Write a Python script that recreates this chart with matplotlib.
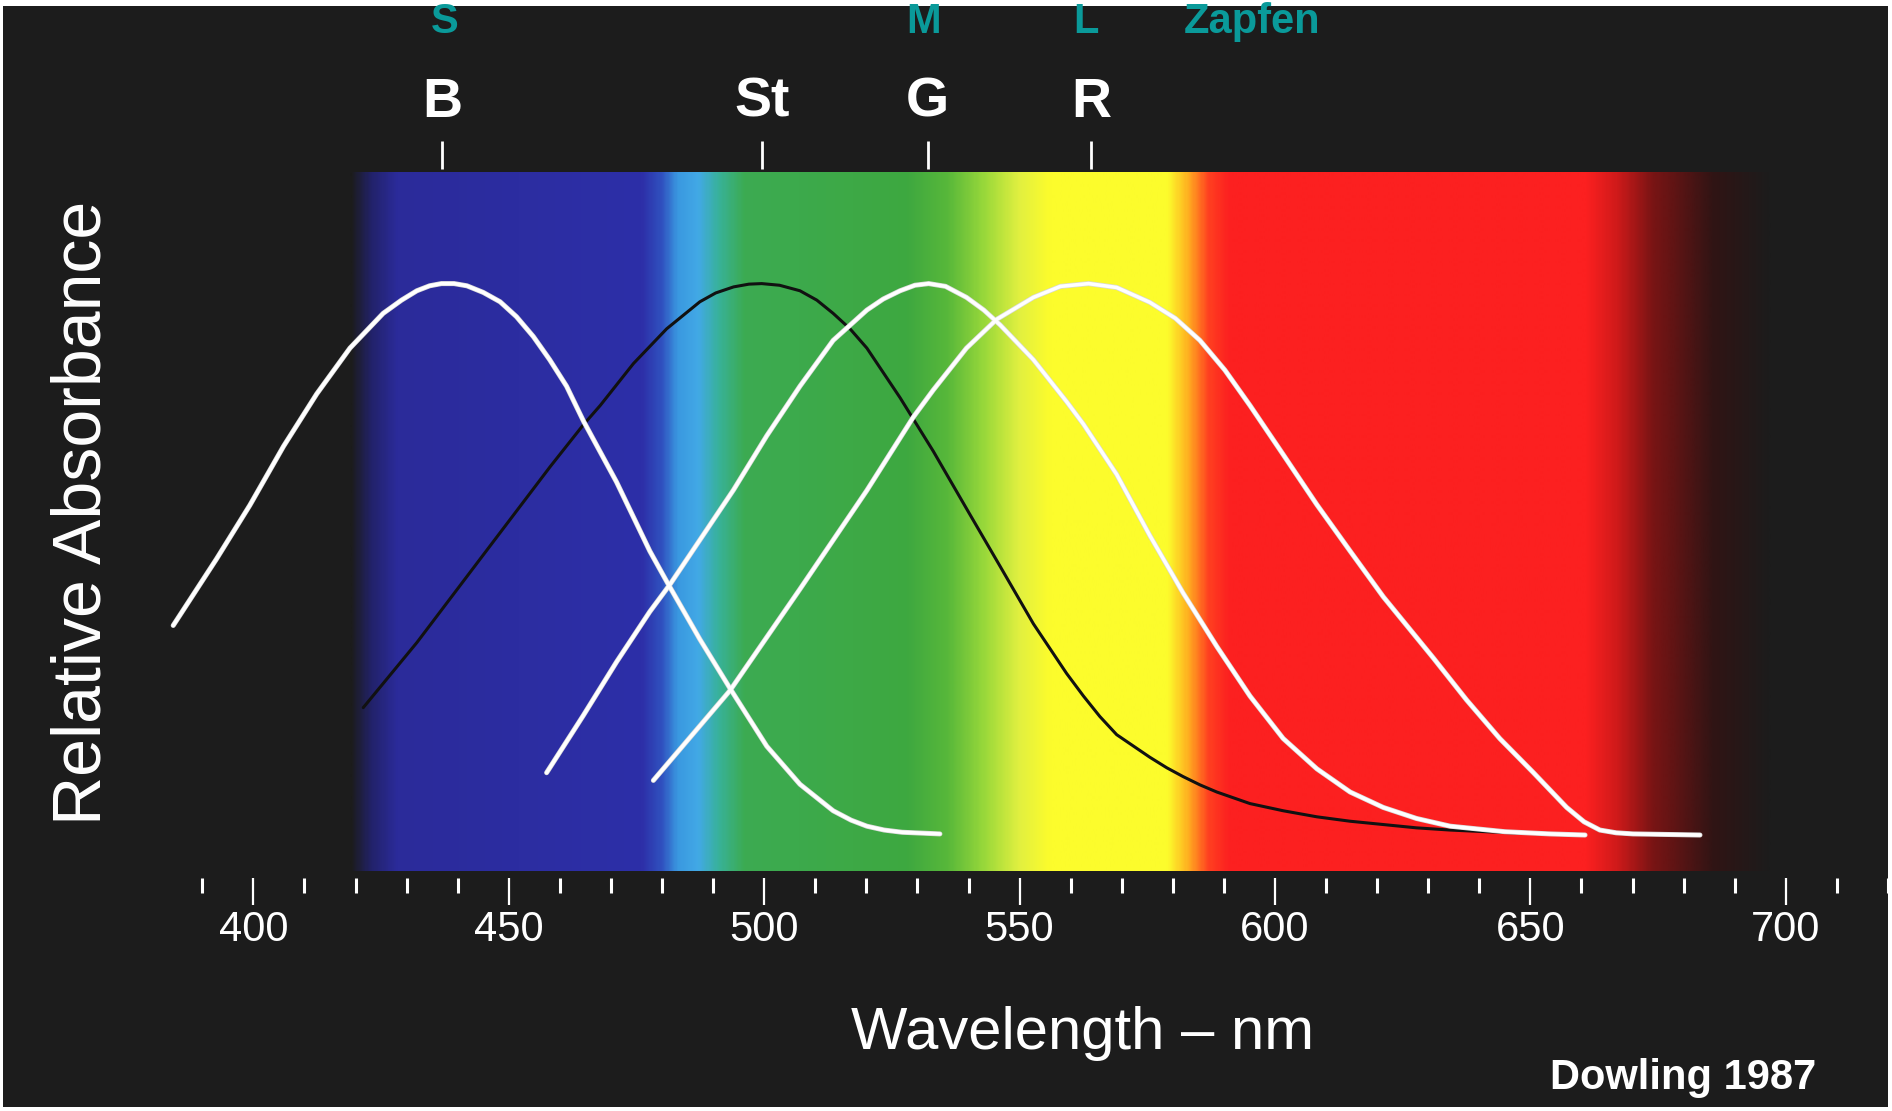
import numpy as np
import matplotlib
matplotlib.use("Agg")
import matplotlib.pyplot as plt
from matplotlib.colors import LinearSegmentedColormap
from matplotlib.patches import Rectangle

plt.rcParams["font.family"] = ["Liberation Sans", "DejaVu Sans"]

# --- data (wavelength nm, relative absorbance) ---
s_nm = [384.3, 392.8, 399.3, 405.9, 412.4, 418.9, 425.4, 429.0, 432.0, 434.5, 436.8, 439.3,
        441.8, 445.0, 448.3, 451.5, 454.8, 458.0, 461.3, 464.6, 471.1, 477.6, 480.9, 487.4,
        493.3, 500.5, 507.0, 513.5, 517.0, 520.1, 523.5, 527.0, 534.4]
s_abs = [0.380, 0.501, 0.598, 0.705, 0.800, 0.883, 0.946, 0.970, 0.987, 0.996, 1.000, 1.000,
         0.996, 0.984, 0.967, 0.940, 0.904, 0.862, 0.814, 0.751, 0.640, 0.515, 0.460, 0.355,
         0.266, 0.161, 0.092, 0.044, 0.027, 0.016, 0.009, 0.005, 0.002]

rod_nm = [421.5, 432.0, 445.0, 458.1, 464.6, 467.9, 474.4, 480.9, 487.4, 490.5, 494.0, 497.0,
          499.5, 503.0, 507.0, 510.3, 513.5, 516.8, 520.1, 526.6, 533.1, 539.6, 546.2, 552.7,
          559.2, 562.5, 565.7, 569.0, 575.5, 578.8, 582.0, 585.3, 588.6, 595.1, 601.6, 608.2,
          614.7, 621.2, 627.7, 634.3, 646.0, 658.0]
rod_abs = [0.231, 0.349, 0.508, 0.668, 0.744, 0.779, 0.855, 0.918, 0.967, 0.983, 0.994, 0.999,
           1.000, 0.997, 0.987, 0.970, 0.946, 0.918, 0.883, 0.793, 0.696, 0.592, 0.487, 0.383,
           0.293, 0.252, 0.215, 0.182, 0.141, 0.122, 0.106, 0.091, 0.078, 0.057, 0.044, 0.033,
           0.025, 0.019, 0.013, 0.009, 0.004, 0.001]

m_nm = [457.4, 464.6, 471.1, 477.6, 481.6, 487.4, 494.0, 500.5, 507.0, 513.5, 520.1, 523.3,
        526.6, 529.5, 532.2, 535.5, 539.6, 543.0, 546.2, 552.7, 559.2, 562.5, 569.0, 575.5,
        582.0, 588.6, 595.1, 601.6, 608.2, 614.7, 621.2, 627.7, 634.3, 645.0, 653.8, 660.7]
m_abs = [0.113, 0.217, 0.314, 0.405, 0.455, 0.535, 0.626, 0.724, 0.814, 0.897, 0.952, 0.972,
         0.987, 0.997, 1.000, 0.995, 0.975, 0.952, 0.925, 0.862, 0.786, 0.745, 0.654, 0.543,
         0.439, 0.342, 0.252, 0.175, 0.120, 0.078, 0.050, 0.030, 0.016, 0.006, 0.002, 0.000]

l_nm = [478.3, 493.3, 507.0, 520.1, 529.2, 533.1, 539.6, 545.5, 552.7, 558.0, 563.5, 569.0,
        575.5, 580.5, 585.3, 590.2, 595.1, 601.6, 608.2, 614.7, 621.2, 631.0, 637.5, 644.0,
        650.6, 657.1, 660.5, 663.6, 666.8, 670.1, 683.2]
l_abs = [0.099, 0.262, 0.446, 0.625, 0.758, 0.807, 0.883, 0.935, 0.975, 0.995, 1.000, 0.993,
         0.966, 0.937, 0.897, 0.843, 0.779, 0.690, 0.599, 0.515, 0.432, 0.321, 0.245, 0.175,
         0.113, 0.050, 0.024, 0.009, 0.004, 0.002, 0.000]

peak_nm = [437, 499.5, 532, 564]
peak_letters = ["B", "St", "G", "R"]
cone_letters = ["S", "M", "L"]
cone_nm = [437.5, 531.2, 563]

major_ticks = list(range(400, 701, 50))
minor_ticks = [t for t in range(390, 721, 10) if t % 50 != 0]

# spectrum band: wavelength stops and colours
band_nm = [419, 423, 428, 476, 480, 483, 487, 491, 496, 528, 536, 543, 550, 556,
           579, 583, 587, 591, 661, 667, 674, 686, 697]
band_colors = ["#1c1c1c", "#22226a", "#2b2b9a", "#2d2fa8", "#3052c0", "#3a98e0", "#42a9e6",
               "#38b29a", "#3cab52", "#3ea840", "#58b83a", "#98d83a", "#e2f040", "#fcfc2c",
               "#fcfc2c", "#ffb020", "#ff4020", "#fc2020", "#fc2020", "#d01a1a", "#7a1414",
               "#301414", "#1c1c1c"]

BG = "#1c1c1c"
TEAL = "#0a9a9a"

fig = plt.figure(figsize=(18.92, 11.11), dpi=100, facecolor="white")
fig.patches.append(Rectangle((3 / 1892, 4 / 1111), 1885 / 1892, 1101 / 1111,
                             transform=fig.transFigure, facecolor=BG, edgecolor="none", zorder=-5))
ax = fig.add_axes([0, 0, 1, 1])
ax.set_facecolor("none")
ax.axis("off")

# spectrum
lo, hi = band_nm[0], band_nm[-1]
cmap = LinearSegmentedColormap.from_list(
    "spec", [((w - lo) / (hi - lo), c) for w, c in zip(band_nm, band_colors)], N=1024)
grad = np.linspace(0, 1, 1200)[None, :]
ax.imshow(grad, cmap=cmap, aspect="auto", extent=(lo, hi, -0.065, 1.201),
          interpolation="bilinear", zorder=1)

# curves
ax.plot(rod_nm, rod_abs, color="#111111", lw=2.2, zorder=3,
        solid_capstyle="round", solid_joinstyle="round")
for xs, ys in [(s_nm, s_abs), (m_nm, m_abs), (l_nm, l_abs)]:
    ax.plot(xs, ys, color="#d8d8d8", lw=3.6, zorder=4,
            solid_capstyle="round", solid_joinstyle="round")
    ax.plot(xs, ys, color="white", lw=2.6, zorder=5,
            solid_capstyle="round", solid_joinstyle="round")

# axis ticks
ax.vlines(minor_ticks, -0.078, -0.105, color="white", lw=2.2, zorder=3)
ax.vlines(major_ticks, -0.078, -0.127, color="white", lw=1.6, zorder=3)
for t in major_ticks:
    ax.text(t, -0.172, str(t), color="white", fontsize=30, ha="center", va="center")

ax.text(562.3, -0.36, "Wavelength – nm", color="white", fontsize=43, ha="center", va="center")
ax.text(366.5, 0.584, "Relative Absorbance", color="white", fontsize=49, rotation=90,
        ha="center", va="center")

# pigment labels
for x, lab in zip(peak_nm, peak_letters):
    ax.vlines(x, 1.208, 1.259, color="white", lw=2.0, zorder=3)
    ax.text(x, 1.328, lab, color="white", fontsize=40, fontweight="bold", ha="center", va="center")
for x, lab in zip(cone_nm, cone_letters):
    ax.text(x, 1.475, lab, color=TEAL, fontsize=30, fontweight="bold", ha="center", va="center")
ax.text(595.6, 1.475, "Zapfen", color=TEAL, fontsize=30, fontweight="bold", ha="center", va="center")

ax.text(679.9, -0.44, "Dowling 1987", color="white", fontsize=30, fontweight="bold",
        ha="center", va="center")

ax.set_xlim(350.39, 720.79)
ax.set_ylim(-0.5005, 1.5143)

fig.savefig("out.png", dpi=100, facecolor=fig.get_facecolor())
